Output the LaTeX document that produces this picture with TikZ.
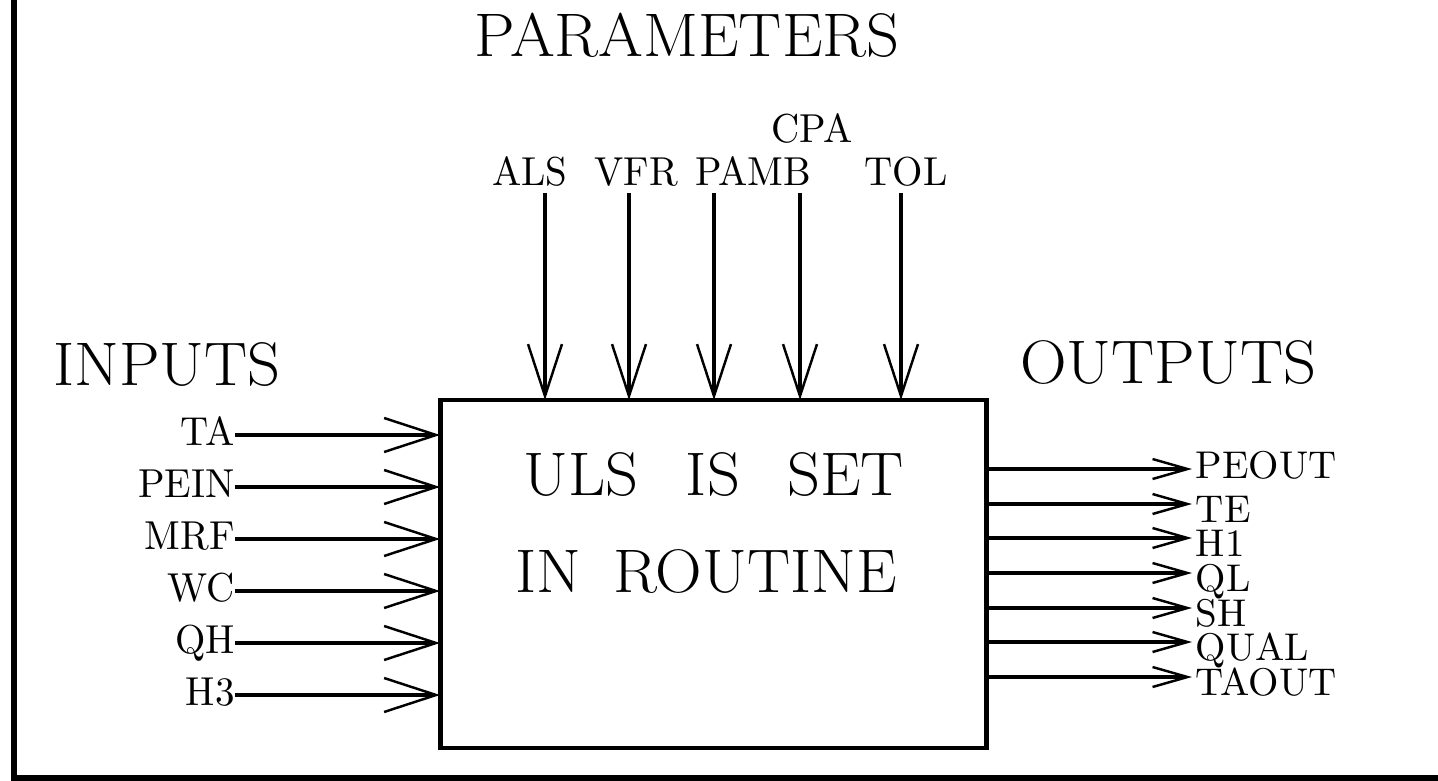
\documentclass[tikz,border=0pt]{standalone}
\usepackage{graphicx}
\usetikzlibrary{arrows.meta,positioning}
\newcommand{\bigtxt}[1]{\scalebox{1.05}[1]{\fontsize{35}{42}\selectfont #1}}
\newcommand{\vartxt}[1]{\scalebox{2.22}[2.3]{#1}}
\newcommand{\outtxt}[1]{\scalebox{2.22}[2.2]{#1}}
\tikzset{
  frame/.style={line width=3.4pt, line cap=rect},
  procbox/.style={draw, line width=2.8pt, minimum width=10.94cm, minimum height=6.96cm, inner sep=0pt, outer sep=0pt},
  heading/.style={anchor=base, inner sep=0pt},
  inarr/.style={line width=2.2pt, -{Straight Barb[length=1.04cm, width=0.68cm, line width=1.4pt 0]}},
  outarr/.style={line width=2.2pt, -{Straight Barb[length=0.7cm, width=0.4cm, line width=1.4pt 0]}},
  inlbl/.style={anchor=east, inner sep=0pt, text height=0.56cm, text depth=0.16cm},
  outlbl/.style={anchor=west, inner xsep=2pt, inner ysep=0pt, text depth=0cm},
  parlbl/.style={anchor=base, inner sep=0pt}
}
\begin{document}
\begin{tikzpicture}[x=0.02cm, y=-0.02cm]
  \useasboundingbox (0,0) rectangle (1438,781);
  \draw[frame] (14,0) -- (14,778) -- (1438,778);
  \node[procbox] (proc) at (713.5,574) {};
  \node[heading] (params) at (687,56) {\bigtxt{PARAMETERS}};
  \node[heading, anchor=base west] (inputs) at (53,385) {\bigtxt{INPUTS}};
  \node[heading, anchor=base west] (outputs) at (1020,383) {\bigtxt{OUTPUTS}};
  \node[heading] (line1) at (714,495) {\bigtxt{ULS\hspace{0.73em}IS\hspace{0.73em}SET}};
  \node[heading] (line2) at (706,592) {\bigtxt{IN\hspace{0.5em}ROUTINE}};
  \foreach \nm/\lx/\ly/\ax [count=\i] in {ALS/530/185/545, VFR/636/185/629, PAMB/753/185/714, CPA/812/142/800, TOL/906/185/901}{
    \node[parlbl] (par\i) at (\lx,\ly) {\vartxt{\nm}};
    \coordinate (par\i-top) at (\ax,193);
    \draw[inarr] (par\i-top) -- (par\i-top |- proc.north);
  }
  \foreach \nm [count=\i] in {TA,PEIN,MRF,WC,QH,H3}{
    \node[inlbl] (in\i) at (235,{383+52*\i}) {\vartxt{\nm}};
    \draw[inarr] (in\i.east) -- (in\i.east -| proc.west);
  }
  \foreach \nm/\ty/\th [count=\i] in {PEOUT/469/0.36, TE/504/0.72, H1/538/0.72, QL/573/0.72, SH/608/0.72, QUAL/642/0.72, TAOUT/677/0.72}{
    \node[outlbl, text height=\th cm] (out\i) at (1192,\ty) {\outtxt{\nm}};
    \draw[outarr] (proc.east |- out\i.west) -- (out\i.west);
  }
\end{tikzpicture}
\end{document}
